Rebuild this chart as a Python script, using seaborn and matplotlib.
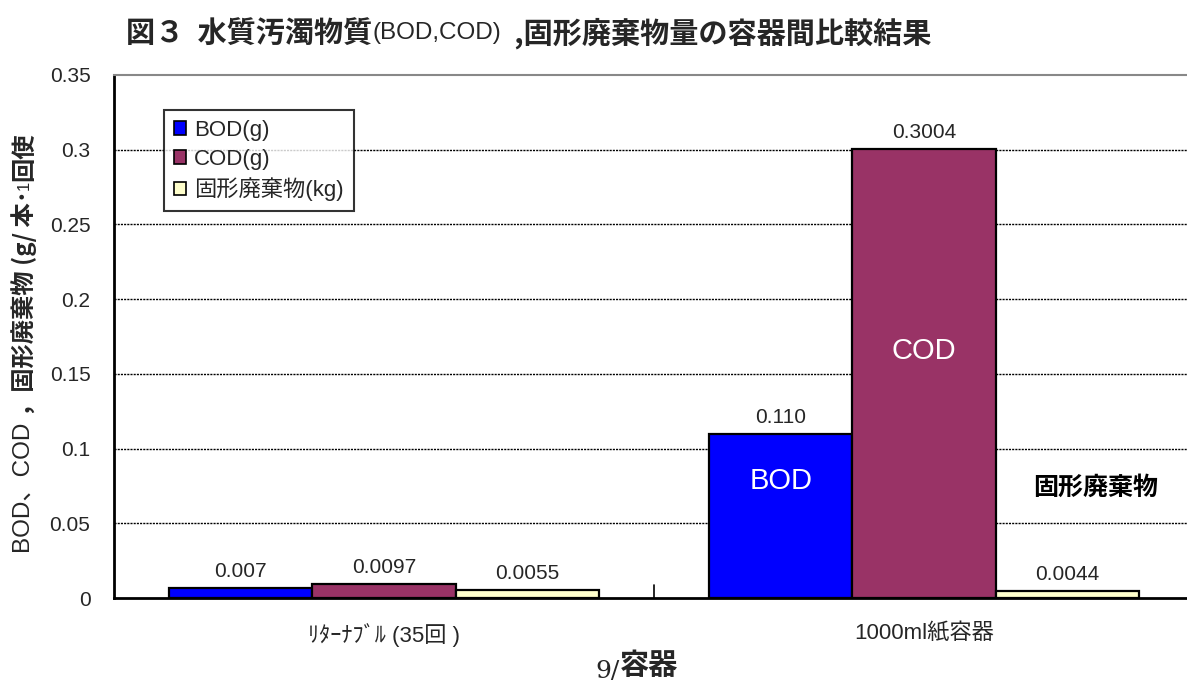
import matplotlib
matplotlib.use("Agg")
import matplotlib.pyplot as plt
import seaborn as sns
import pandas as pd

# --- data -------------------------------------------------------------
containers = ["ﾘﾀｰﾅﾌﾞﾙ (35回 )", "1000ml紙容器"]
substances = ["BOD(g)", "COD(g)", "固形廃棄物(kg)"]
bod_values = [0.007, 0.110]
cod_values = [0.0097, 0.3004]
solid_values = [0.0055, 0.0044]
value_labels = {
    "BOD(g)": ["0.007", "0.110"],
    "COD(g)": ["0.0097", "0.3004"],
    "固形廃棄物(kg)": ["0.0055", "0.0044"],
}
y_ticks = [0, 0.05, 0.1, 0.15, 0.2, 0.25, 0.3, 0.35]
y_tick_labels = ["0", "0.05", "0.1", "0.15", "0.2", "0.25", "0.3", "0.35"]
bar_colors = ["#0000FF", "#993366", "#FFFFCC"]

rows = []
for name, vals in zip(substances, [bod_values, cod_values, solid_values]):
    for c, v in zip(containers, vals):
        rows.append({"容器": c, "物質": name, "値": v})
df = pd.DataFrame(rows)

# --- style ------------------------------------------------------------
sns.set_theme(style="white")
JP = ["Noto Sans CJK JP", "DejaVu Sans"]
LAT = ["Liberation Sans", "Noto Sans CJK JP", "DejaVu Sans"]
plt.rcParams["font.family"] = LAT

W, H = 1187, 686
fig = plt.figure(figsize=(W / 100, H / 100), dpi=100)
ax = fig.add_axes([114 / W, 1 - 598 / H, (1194 - 114) / W, (598 - 75) / H])

sns.barplot(
    data=df, x="容器", y="値", hue="物質", order=containers, hue_order=substances,
    palette=bar_colors, width=0.795, gap=0, edgecolor="black", linewidth=1.6,
    saturation=1, ax=ax, legend=True,
)

ax.set_ylim(0, 0.35)
ax.set_yticks(y_ticks)
ax.set_yticklabels(y_tick_labels, fontsize=15, family=LAT)
ax.set_xlim(-0.5, 1.5)
ax.set_xticks([0, 1])
ax.set_xticklabels(containers, fontsize=16, family=LAT)
ax.tick_params(axis="x", length=0, pad=18)
ax.tick_params(axis="y", length=0, pad=17)
# category boundary tick at the middle of the axis
ax.plot([0.5, 0.5], [0, 0.0085], color="black", lw=1.2, clip_on=False, zorder=5)

# dashed grid lines
for yv in y_ticks[1:-1]:
    ax.axhline(yv, color="black", lw=1.0, ls=(0, (1.5, 0.8)), zorder=0)

ax.spines["left"].set_color("black")
ax.spines["left"].set_linewidth(2)
ax.spines["bottom"].set_color("black")
ax.spines["bottom"].set_linewidth(2)
ax.spines["top"].set_color("#888888")
ax.spines["top"].set_linewidth(1.5)
ax.spines["right"].set_visible(False)
ax.set_xlabel("")
ax.set_ylabel("")

# value labels above bars
for cont, name in zip(ax.containers, substances):
    ax.bar_label(cont, labels=value_labels[name], padding=5, fontsize=15,
                 family=LAT)

# names written inside the chart
ax.text(0.735, 0.078, "BOD", color="white", fontsize=21, ha="center",
        va="center", family=LAT)
ax.text(1.0, 0.165, "COD", color="white", fontsize=21, ha="center",
        va="center", family=LAT)
ax.text(1.318, 0.0735, "固形廃棄物", color="black", fontsize=18,
        fontweight="bold", ha="center", va="center", family=JP)

# legend
handles, labels = ax.get_legend_handles_labels()
leg = ax.legend(
    handles, labels, loc="upper left",
    bbox_to_anchor=((164 - 114) / (1194 - 114), 1 - (110 - 75) / (598 - 75)),
    frameon=True, fancybox=False, edgecolor="black",
    handlelength=0.55, handleheight=0.55, handletextpad=0.35, labelspacing=0.35,
    borderpad=0.45, borderaxespad=0, prop={"family": LAT, "size": 16},
)
leg.get_frame().set_linewidth(1.5)
for h in leg.legend_handles:
    h.set_edgecolor("black")
    h.set_linewidth(1.2)

fig.canvas.draw()
renderer = fig.canvas.get_renderer()


def run_text(pieces, x, y, rotation=0):
    """Draw text pieces one after another, starting at pixel (x, y) from top-left."""
    inv = fig.transFigure.inverted()
    cx, cy = x, H - y
    for s, weight, fam, sz in pieces:
        t = fig.text(*inv.transform((cx, cy)), s, fontsize=sz, fontweight=weight,
                     family=fam, rotation=rotation, rotation_mode="anchor",
                     ha="left", va="center")
        bb = t.get_window_extent(renderer)
        if rotation == 0:
            cx += bb.width
        else:
            cy += bb.height


# title
run_text([
    ("図３  水質汚濁物質", "bold", JP, 21),
    ("(BOD,COD)", "normal", LAT, 17.5),
    ("  ,固形廃棄物量の容器間比較結果", "bold", JP, 21),
], 126, 33)

# y axis label, written upward
run_text([
    ("BOD、COD ", "normal", LAT, 17.5),
    ("，固形廃棄物 (g/ 本･", "bold", JP, 17.5),
    ("1", "normal", LAT, 12),
    ("回使", "bold", JP, 17.5),
], 24, 553, rotation=90)

# x axis label
fig.text(595 / W, 1 - 672 / H, "9/", fontsize=18, family="DejaVu Serif",
         ha="left", va="center")
fig.text(620 / W, 1 - 665 / H, "容器", fontsize=21, fontweight="bold",
         family=JP, ha="left", va="center")

fig.savefig("out.png", dpi=100)
